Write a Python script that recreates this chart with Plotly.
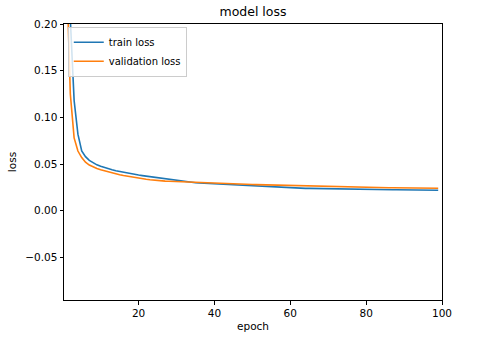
import plotly.graph_objects as go

epochs = list(range(1, 100))

train_loss = [
    0.450, 0.205, 0.118, 0.082, 0.064, 0.058, 0.054, 0.0512, 0.0492, 0.0476,
    0.0462, 0.0450, 0.0439, 0.0429, 0.0420, 0.0411, 0.0403, 0.0396, 0.0389, 0.0383,
    0.0377, 0.0371, 0.0366, 0.0361, 0.0353, 0.0348, 0.0343, 0.0338, 0.0333, 0.0327,
    0.0320, 0.0314, 0.0309, 0.0304, 0.0301, 0.0298, 0.0296, 0.0293, 0.0291, 0.0289,
    0.0286, 0.0284, 0.0281, 0.0278, 0.0276, 0.0273, 0.0270, 0.0268, 0.0265, 0.0263,
    0.0261, 0.0259, 0.0256, 0.0254, 0.0252, 0.0250, 0.0249, 0.0247, 0.0246, 0.0244,
    0.0243, 0.0242, 0.0241, 0.0240, 0.0240, 0.0239, 0.0238, 0.0237, 0.0237, 0.0236,
    0.0235, 0.0235, 0.0234, 0.0233, 0.0233, 0.0232, 0.0232, 0.0231, 0.0230, 0.0230,
    0.0229, 0.0229, 0.0228, 0.0228, 0.0227, 0.0227, 0.0226, 0.0226, 0.0225, 0.0225,
    0.0224, 0.0224, 0.0223, 0.0223, 0.0222, 0.0222, 0.0221, 0.0221, 0.0220,
]

val_loss = [
    0.260, 0.125, 0.078, 0.064, 0.057, 0.052, 0.049, 0.0468, 0.0452, 0.0439,
    0.0427, 0.0416, 0.0406, 0.0396, 0.0387, 0.0378, 0.0370, 0.0363, 0.0356, 0.0348,
    0.0343, 0.0338, 0.0333, 0.0328, 0.0324, 0.0321, 0.0318, 0.0316, 0.0314, 0.0312,
    0.0310, 0.0308, 0.0307, 0.0305, 0.0304, 0.0303, 0.0302, 0.0301, 0.0300, 0.0299,
    0.0297, 0.0296, 0.0294, 0.0292, 0.0290, 0.0288, 0.0286, 0.0284, 0.0282, 0.0281,
    0.0280, 0.0279, 0.0278, 0.0277, 0.0276, 0.0274, 0.0272, 0.0270, 0.0268, 0.0266,
    0.0264, 0.0263, 0.0262, 0.0261, 0.0260, 0.0259, 0.0259, 0.0258, 0.0257, 0.0257,
    0.0256, 0.0256, 0.0255, 0.0254, 0.0254, 0.0253, 0.0253, 0.0252, 0.0251, 0.0250,
    0.0250, 0.0249, 0.0249, 0.0248, 0.0248, 0.0247, 0.0247, 0.0246, 0.0246, 0.0245,
    0.0245, 0.0244, 0.0244, 0.0243, 0.0243, 0.0242, 0.0242, 0.0241, 0.0241,
]

x_ticks = [20, 40, 60, 80, 100]
y_ticks = [-0.05, 0.00, 0.05, 0.10, 0.15, 0.20]

FONT = "DejaVu Sans, sans-serif"

fig = go.Figure()
fig.add_trace(go.Scatter(x=epochs, y=train_loss, mode="lines", name="train loss",
                         line=dict(color="#1f77b4", width=1.6)))
fig.add_trace(go.Scatter(x=epochs, y=val_loss, mode="lines", name="validation loss",
                         line=dict(color="#ff7f0e", width=1.6)))

axis_common = dict(
    showgrid=False, zeroline=False, showline=True, linecolor="black", linewidth=1,
    mirror=True, ticks="outside", ticklen=3.5, tickwidth=0.8, tickcolor="black",
    tickfont=dict(family=FONT, size=10.5, color="black"),
)

fig.update_layout(
    width=491, height=342,
    margin=dict(l=62, r=49, t=24, b=40),
    paper_bgcolor="white", plot_bgcolor="white",
    font=dict(family=FONT, color="black"),
    title=dict(text="model loss", x=0.5, xref="paper", xanchor="center",
               y=1 - 12 / 342, yref="container", yanchor="middle",
               font=dict(family=FONT, size=12.5, color="black")),
    xaxis=dict(range=[0.33, 100], tickvals=x_ticks,
               title=dict(text="epoch", font=dict(family=FONT, size=10.5), standoff=4),
               **axis_common),
    yaxis=dict(range=[-0.0955, 0.2], tickvals=y_ticks, tickformat=".2f",
               title=dict(text="loss", font=dict(family=FONT, size=10.5), standoff=6),
               **axis_common),
    legend=dict(x=0.01, y=0.99, xanchor="left", yanchor="top",
                bgcolor="rgba(255,255,255,0.8)", bordercolor="#cccccc", borderwidth=1,
                font=dict(family=FONT, size=10, color="black"),
                itemwidth=30, tracegroupgap=0),
    showlegend=True,
)

fig.write_html("out.html")
